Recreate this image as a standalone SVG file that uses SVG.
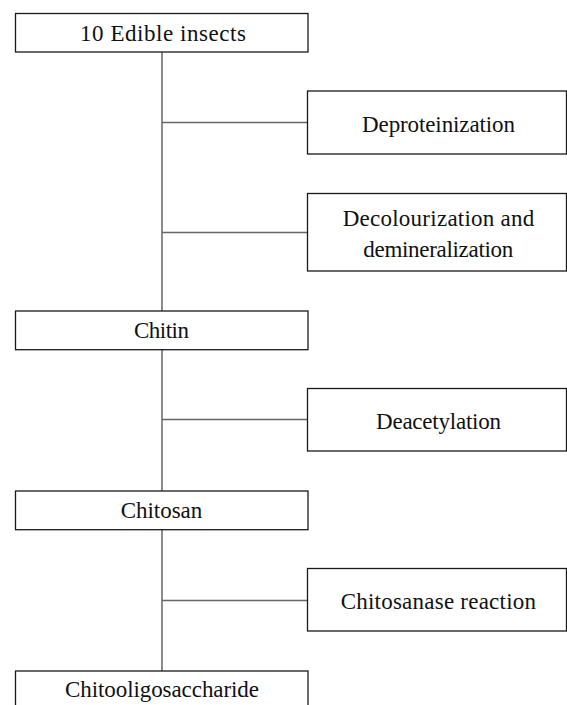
<svg xmlns="http://www.w3.org/2000/svg" width="567" height="705" viewBox="0 0 567 705">
<style>
.box{fill:#fff;stroke:#1a1a1a;stroke-width:1.3}
.lbl{font-family:"Liberation Serif","Times New Roman",serif;font-size:23px;fill:#111}
.conn line{stroke:#666;stroke-width:1.5}
</style>
<rect width="567" height="705" fill="#fff"/>
<g id="connectors" class="conn">
<line x1="162" y1="52" x2="162" y2="311"/>
<line x1="162" y1="350" x2="162" y2="491"/>
<line x1="162" y1="530" x2="162" y2="671"/>
<line x1="162" y1="122.5" x2="307" y2="122.5"/>
<line x1="162" y1="232.5" x2="307" y2="232.5"/>
<line x1="162" y1="419.5" x2="307" y2="419.5"/>
<line x1="162" y1="600.5" x2="307" y2="600.5"/>
</g>
<g id="n-insects">
<rect class="box" x="15.5" y="13.5" width="292.5" height="38.5"/>
<text class="lbl" x="80" y="40.7" textLength="166" lengthAdjust="spacing">10 Edible insects</text>
</g>
<g id="n-deprot">
<rect class="box" x="307.5" y="91" width="259" height="63"/>
<text class="lbl" x="362" y="131.7" textLength="153" lengthAdjust="spacing">Deproteinization</text>
</g>
<g id="n-decol">
<rect class="box" x="307.5" y="193.5" width="259" height="77.5"/>
<text class="lbl" x="342.7" y="225.7" textLength="191.6" lengthAdjust="spacing">Decolourization and</text>
<text class="lbl" x="363.3" y="256.7" textLength="150" lengthAdjust="spacing">demineralization</text>
</g>
<g id="n-chitin">
<rect class="box" x="15.5" y="311" width="292.5" height="38.7"/>
<text class="lbl" x="134" y="338" textLength="55" lengthAdjust="spacing">Chitin</text>
</g>
<g id="n-deacet">
<rect class="box" x="307.5" y="388.5" width="259" height="62.5"/>
<text class="lbl" x="376" y="429.3" textLength="125" lengthAdjust="spacing">Deacetylation</text>
</g>
<g id="n-chitosan">
<rect class="box" x="15.5" y="491" width="292.5" height="38.7"/>
<text class="lbl" x="120.7" y="517.7" textLength="81.6" lengthAdjust="spacing">Chitosan</text>
</g>
<g id="n-chitosanase">
<rect class="box" x="307.5" y="568.5" width="259" height="62.5"/>
<text class="lbl" x="340.7" y="609.3" textLength="195.3" lengthAdjust="spacing">Chitosanase reaction</text>
</g>
<g id="n-cos">
<rect class="box" x="15.5" y="671" width="292.5" height="50"/>
<text class="lbl" x="65" y="697.3" textLength="194" lengthAdjust="spacing">Chitooligosaccharide</text>
</g>
</svg>
